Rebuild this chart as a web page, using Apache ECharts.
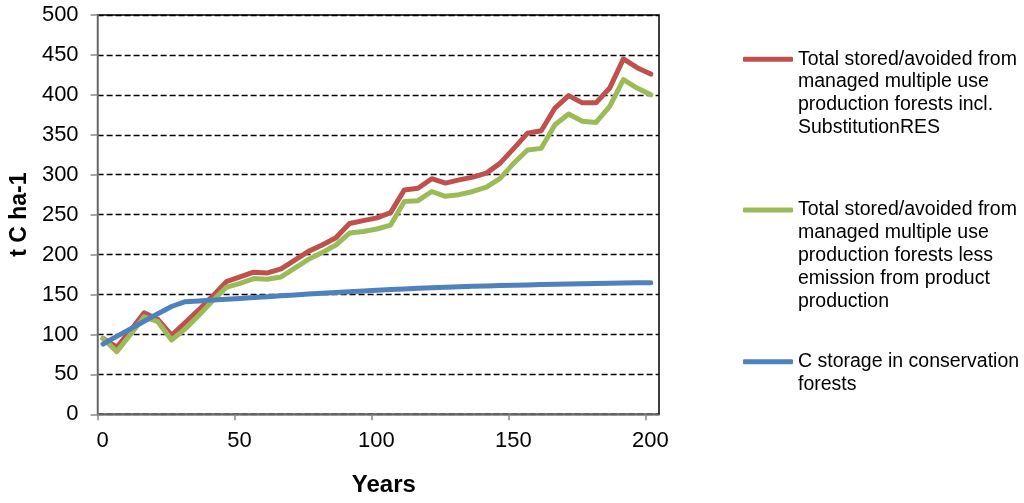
<!DOCTYPE html>
<html>
<head>
<meta charset="utf-8">
<script src="https://cdn.jsdelivr.net/npm/echarts@6/dist/echarts.min.js"></script>
<style>
  html, body { margin: 0; padding: 0; background: #fff; }
  #chart { width: 1024px; height: 503px; }
</style>
</head>
<body>
<div id="chart"></div>
<script>
// ---- data ----
const years = [2, 7, 12, 17, 22, 27, 32, 37, 42, 47, 52, 57, 62, 67, 72, 77, 82, 87, 92, 97,
  102, 107, 112, 117, 122, 127, 132, 137, 142, 147, 152, 157, 162, 167, 172, 177, 182, 187, 192, 197, 202];

const totalInclSubstitution = [95, 84, 105, 127, 119, 99, 115, 131, 148, 166, 172, 178, 177, 182, 193, 204, 212, 221, 239, 242.5,
  246, 252.5, 281, 283, 295, 289.5, 293.5, 297, 302, 314.5, 333, 352, 355, 383.5, 399, 390, 390, 408.5, 445, 434, 426];

const totalLessEmission = [95, 78.5, 100, 122, 116, 93, 107, 124, 142, 159, 164, 170, 169, 172, 183, 194, 202.5, 212, 227, 229,
  232, 237, 266.5, 267.5, 279, 273, 275, 279, 284.5, 295.5, 314.5, 331, 333, 362.5, 376, 367, 365.5, 385.5, 419, 408.5, 400];

const conservationStorage = [88, 97.5, 107, 116.5, 126, 135, 141, 142, 143, 144, 145, 146.2, 147.3, 148.4, 149.5, 150.6, 151.6, 152.6, 153.6, 154.5,
  155.4, 156.2, 157, 157.8, 158.5, 159.1, 159.7, 160.2, 160.7, 161.2, 161.6, 162, 162.4, 162.8, 163.1, 163.4, 163.7, 164, 164.3, 164.6, 164.8];

const seriesNames = [
  'Total stored/avoided from\nmanaged multiple use\nproduction forests incl.\nSubstitutionRES',
  'Total stored/avoided from\nmanaged multiple use\nproduction forests less\nemission from product\nproduction',
  'C storage in conservation\nforests'
];
const seriesColors = ['#C0504D', '#9BBB59', '#4F81BD'];

const xTicks = [0, 50, 100, 150, 200];
const yMin = 0, yMax = 500, yStep = 50;
const xMin = 0, xMax = 205;
const xTitle = 'Years';
const yTitle = 't C ha-1';

// ---- build ----
const FONT = 'Liberation Sans, Arial, sans-serif';
const pairs = (ys) => years.map((x, i) => [x, ys[i]]);
const seriesValues = [totalInclSubstitution, totalLessEmission, conservationStorage];

const LH = 22.8;
const legendIconCenters = [59.3, 210, 361.7];
const legends = seriesNames.map((name, i) => {
  const n = name.split('\n').length;
  const H = (2 * n - 1) * LH;
  return {
    data: [name],
    orient: 'vertical',
    left: 743,
    top: legendIconCenters[i] - H / 2,
    padding: 0,
    icon: 'roundRect',
    itemWidth: 50,
    itemHeight: 5,
    selectedMode: false,
    formatter: (nm) => '\n'.repeat(nm.split('\n').length - 1) + nm,
    textStyle: { fontFamily: FONT, fontSize: 19.5, lineHeight: LH, color: '#000' }
  };
});

const option = {
  animation: false,
  backgroundColor: '#fff',
  grid: {
    left: 95, top: 15, width: 564, height: 399.3,
    show: true, borderColor: '#000', borderWidth: 1.5, backgroundColor: 'transparent'
  },
  legend: legends,
  xAxis: {
    type: 'value', min: xMin, max: xMax, interval: 50,
    name: xTitle, nameLocation: 'middle', nameGap: 59,
    nameTextStyle: { fontFamily: FONT, fontSize: 24, fontWeight: 'bold', color: '#000', padding: [0, 0, 0, 11] },
    axisLine: { show: true, lineStyle: { color: '#868686', width: 1.5 } },
    axisTick: { show: true, length: 6, lineStyle: { color: '#868686', width: 1.5 }, customValues: xTicks },
    axisLabel: { margin: 16, fontFamily: FONT, fontSize: 22, color: '#000', customValues: xTicks, padding: [0, 0, 0, 10] },
    splitLine: { show: false }
  },
  yAxis: {
    type: 'value', min: yMin, max: yMax, interval: yStep,
    name: yTitle, nameLocation: 'middle', nameGap: 65,
    nameTextStyle: { fontFamily: FONT, fontSize: 23, fontWeight: 'bold', color: '#000' },
    axisLine: { show: true, lineStyle: { color: '#868686', width: 1.5 } },
    axisTick: { show: true, length: 7, lineStyle: { color: '#868686', width: 1.5 } },
    axisLabel: { margin: 19, fontFamily: FONT, fontSize: 22, color: '#000' },
    splitLine: { show: true, lineStyle: { color: '#000', width: 1.3, type: [6, 3] } }
  },
  series: seriesNames.map((name, i) => ({
    name: name,
    type: 'line',
    data: pairs(seriesValues[i]),
    showSymbol: false,
    symbol: 'none',
    color: seriesColors[i],
    itemStyle: { color: seriesColors[i] },
    lineStyle: { color: seriesColors[i], width: 5, cap: 'round', join: 'round' },
    z: 2 + i
  }))
};

const chart = echarts.init(document.getElementById('chart'), null, { renderer: 'canvas' });
chart.setOption(option);
</script>
</body>
</html>
